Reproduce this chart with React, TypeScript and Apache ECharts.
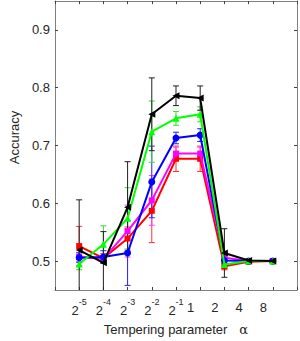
import React, { useEffect, useRef } from "react";
import * as echarts from "echarts";

const xLog2 = [-5, -4, -3, -2, -1, 0, 1, 2, 3];
const yTicks = [0.5, 0.6, 0.7, 0.8, 0.9];

const blackMean = [0.519, 0.497, 0.593, 0.754, 0.786, 0.782, 0.514, 0.501, 0.5];
const blackErr = [0.087, 0.054, 0.079, 0.063, 0.017, 0.021, 0.042, 0.002, 0.002];
const greenMean = [0.495, 0.529, 0.574, 0.724, 0.747, 0.754, 0.494, 0.5, 0.5];
const greenErr = [0.01, 0.032, 0.053, 0.053, 0.012, 0.013, 0.006, 0.002, 0.002];
const blueMean = [0.506, 0.507, 0.514, 0.637, 0.713, 0.718, 0.501, 0.5, 0.5];
const blueErr = [0.008, 0.011, 0.056, 0.062, 0.01, 0.011, 0.005, 0.002, 0.002];
const magentaMean = [0.507, 0.504, 0.552, 0.605, 0.686, 0.686, 0.506, 0.5, 0.5];
const magentaErr = [0.008, 0.006, 0.045, 0.043, 0.011, 0.011, 0.005, 0.002, 0.002];
const redMean = [0.526, 0.505, 0.539, 0.587, 0.677, 0.677, 0.491, 0.499, 0.5];
const redErr = [0.034, 0.008, 0.02, 0.055, 0.022, 0.022, 0.006, 0.002, 0.002];

const FONT = "'Liberation Sans', Arial, sans-serif";
const Y_MIN = 0.45;
const Y_MAX = 0.95;

type S = { name: string; color: string; errColor: string; mean: number[]; err: number[]; symbol: string; size: number };

const seriesDefs: S[] = [
  { name: "red", color: "#ff0000", errColor: "#ff3030", mean: redMean, err: redErr, symbol: "rect", size: 6 },
  { name: "magenta", color: "#ff00ff", errColor: "#ff40ff", mean: magentaMean, err: magentaErr, symbol: "rect", size: 6 },
  { name: "blue", color: "#0000ff", errColor: "#2020ff", mean: blueMean, err: blueErr, symbol: "circle", size: 7 },
  { name: "green", color: "#00ff00", errColor: "#30e030", mean: greenMean, err: greenErr, symbol: "triangle", size: 7 },
  { name: "black", color: "#000000", errColor: "#202020", mean: blackMean, err: blackErr, symbol: "path://M0,5L10,0L10,10Z", size: 7 },
];

export default function App() {
  const ref = useRef<HTMLDivElement>(null);
  useEffect(() => {
    if (!ref.current) return;
    const chart = echarts.init(ref.current, null, { renderer: "svg" });
    const series: any[] = [];
    seriesDefs.forEach((s) => {
      series.push({
        type: "custom",
        name: s.name + "-err",
        xAxisIndex: 0,
        yAxisIndex: 0,
        z: 2,
        data: xLog2.map((x, i) => [x, s.mean[i] - s.err[i], s.mean[i] + s.err[i]]),
        renderItem: (params: any, api: any) => {
          const x = api.value(0);
          const lo = api.value(1);
          const hi = api.value(2);
          const loC = Math.max(lo, Y_MIN);
          const hiC = Math.min(hi, Y_MAX);
          const pLo = api.coord([x, loC]);
          const pHi = api.coord([x, hiC]);
          const cw = 3;
          const st = { stroke: s.errColor, lineWidth: 1 };
          const children: any[] = [
            { type: "line", shape: { x1: pLo[0], y1: pLo[1], x2: pHi[0], y2: pHi[1] }, style: st },
          ];
          if (lo >= Y_MIN)
            children.push({ type: "line", shape: { x1: pLo[0] - cw, y1: pLo[1], x2: pLo[0] + cw, y2: pLo[1] }, style: st });
          if (hi <= Y_MAX)
            children.push({ type: "line", shape: { x1: pHi[0] - cw, y1: pHi[1], x2: pHi[0] + cw, y2: pHi[1] }, style: st });
          return { type: "group", children };
        },
      });
    });
    seriesDefs.forEach((s, k) => {
      series.push({
        type: "line",
        name: s.name,
        z: 3 + k,
        data: xLog2.map((x, i) => [x, s.mean[i]]),
        symbol: s.symbol,
        symbolSize: s.size,
        showSymbol: true,
        lineStyle: { color: s.color, width: 2 },
        itemStyle: { color: s.color },
      });
    });

    const axisLineStyle = { color: "#808080", width: 1 };
    const tickStyle = { color: "#404040", width: 1 };

    chart.setOption({
      animation: false,
      grid: { left: 35, right: 1, top: 1, bottom: 49, containLabel: false },
      xAxis: [
        {
          type: "value",
          min: -6,
          max: 4,
          interval: 1,
          position: "bottom",
          axisLine: { show: true, onZero: false, lineStyle: axisLineStyle },
          axisTick: { show: true, inside: true, length: 3, lineStyle: tickStyle },
          splitLine: { show: false },
          axisLabel: {
            margin: 7,
            color: "#262626",
            fontFamily: FONT,
            formatter: (v: number) => {
              if (v < -5 || v > 3) return "";
              if (v < 0) return `{b|2}{s|${v}}`;
              return `{n|${Math.pow(2, v)}}`;
            },
            rich: {
              b: { fontSize: 13, lineHeight: 20, verticalAlign: "bottom", fontFamily: FONT, color: "#262626" },
              s: { fontSize: 9, lineHeight: 8, verticalAlign: "top", fontFamily: FONT, color: "#262626" },
              n: { fontSize: 13, lineHeight: 20, fontFamily: FONT, color: "#262626", padding: [0, 19, 0, 0] },
            },
          },
          name: "Tempering parameter{g|}{a|α}",
          nameLocation: "middle",
          nameGap: 33,
          nameTextStyle: {
            fontSize: 13,
            fontFamily: FONT,
            color: "#262626",
            rich: {
              g: { width: 12 },
              a: { fontSize: 13, fontFamily: "'DejaVu Serif', 'Liberation Serif', serif", color: "#262626" },
            },
          },
        },
        {
          type: "value",
          min: -6,
          max: 4,
          interval: 1,
          position: "top",
          axisLine: { show: true, onZero: false, lineStyle: axisLineStyle },
          axisTick: { show: true, inside: true, length: 3, lineStyle: tickStyle },
          axisLabel: { show: false },
          splitLine: { show: false },
        },
      ],
      yAxis: [
        {
          type: "value",
          min: Y_MIN,
          max: Y_MAX,
          position: "left",
          axisLine: { show: true, onZero: false, lineStyle: axisLineStyle },
          axisTick: { show: true, inside: true, length: 3, lineStyle: tickStyle, customValues: yTicks },
          splitLine: { show: false },
          axisLabel: {
            margin: 5,
            fontSize: 13,
            fontFamily: FONT,
            color: "#262626",
            customValues: yTicks,
            formatter: (v: number) => v.toFixed(1),
          },
          name: "Accuracy",
          nameLocation: "middle",
          nameGap: 33,
          nameRotate: 90,
          nameTextStyle: { fontSize: 13, fontFamily: FONT, color: "#262626", padding: [0, 0, 0, 16] },
        },
        {
          type: "value",
          min: Y_MIN,
          max: Y_MAX,
          position: "right",
          axisLine: { show: true, onZero: false, lineStyle: axisLineStyle },
          axisTick: { show: true, inside: true, length: 3, lineStyle: tickStyle, customValues: yTicks },
          axisLabel: { show: false, customValues: yTicks },
          splitLine: { show: false },
        },
      ],
      series,
    });
    return () => chart.dispose();
  }, []);
  return <div ref={ref} style={{ position: "fixed", left: 0, top: 0, width: 300, height: 341, background: "#fff" }} />;
}
